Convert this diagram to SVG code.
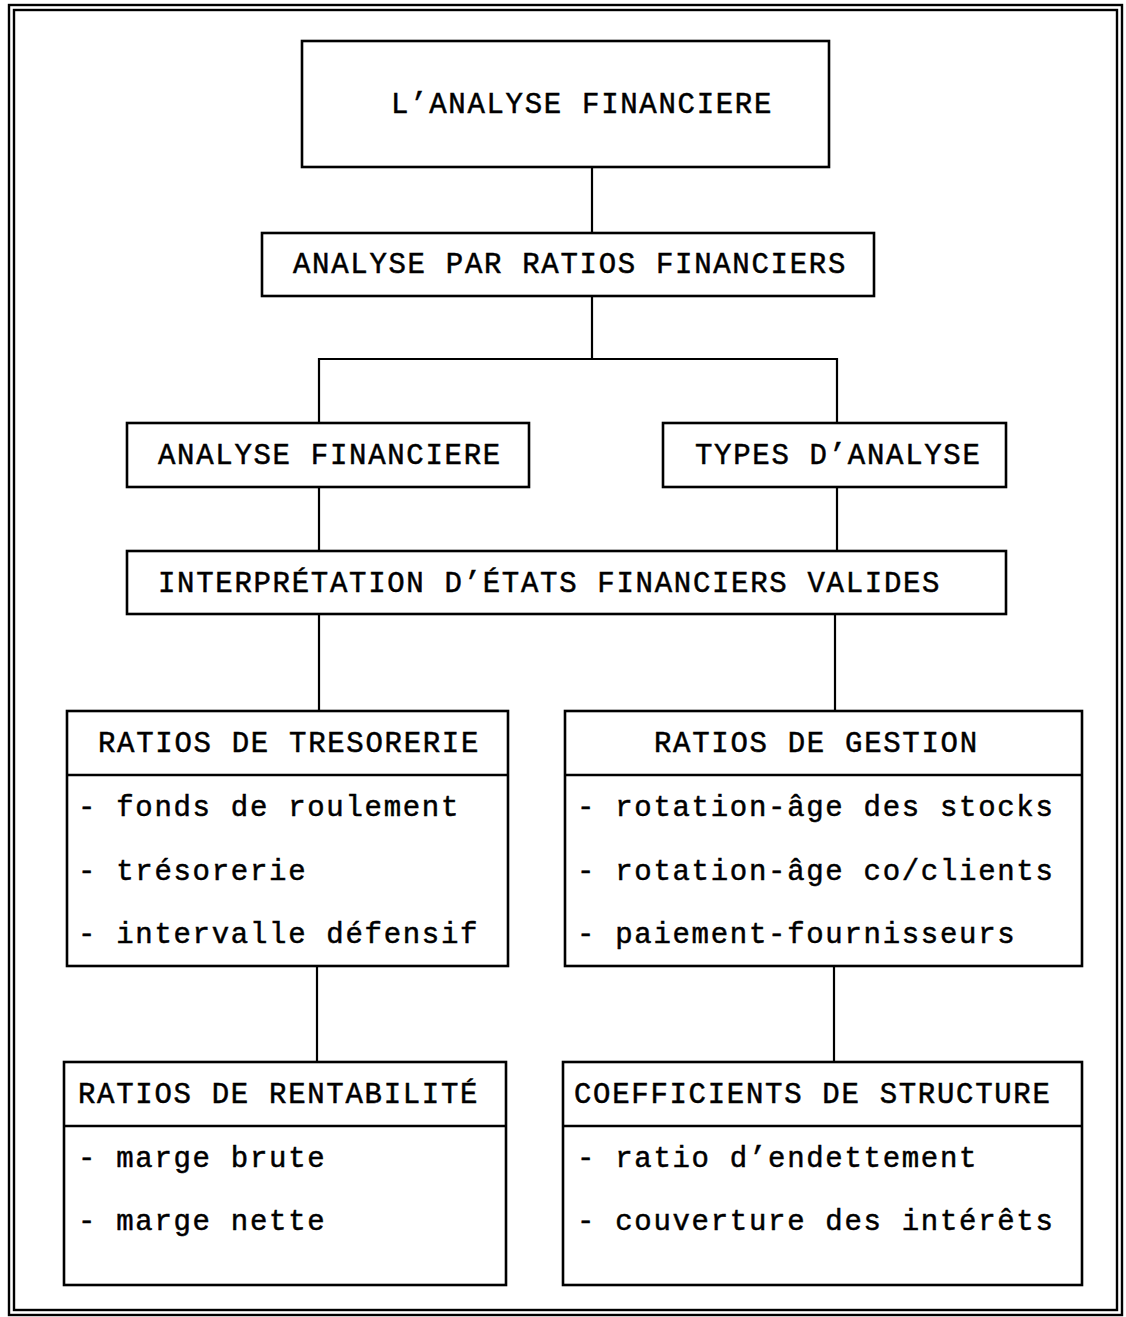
<svg xmlns="http://www.w3.org/2000/svg" width="1126" height="1317" viewBox="0 0 1126 1317">
  <style>
    .box { fill: #fff; stroke: #000; stroke-width: 2.6; }
    .rule { stroke: #000; stroke-width: 2.6; fill: none; }
    .frame { fill: none; stroke: #000; stroke-width: 2.4; }
    .link { stroke: #000; stroke-width: 2.2; fill: none; }
    text { font-family: "Liberation Mono", "Courier New", monospace; font-size: 29px; letter-spacing: 1.7px; fill: #000; stroke: #000; stroke-width: 0.5px; }
  </style>
  <rect width="1126" height="1317" fill="#fff"/>

  <!-- double page frame -->
  <rect class="frame" x="9" y="5" width="1113" height="1310"/>
  <rect class="frame" x="14" y="10" width="1103" height="1300"/>

  <!-- connectors -->
  <g id="connectors">
    <line class="link" x1="592" y1="167" x2="592" y2="233"/>
    <polyline class="link" points="592,296 592,359"/>
    <polyline class="link" points="319,423 319,359 837,359 837,423"/>
    <line class="link" x1="319" y1="487" x2="319" y2="551"/>
    <line class="link" x1="837" y1="487" x2="837" y2="551"/>
    <line class="link" x1="319" y1="614" x2="319" y2="711"/>
    <line class="link" x1="835" y1="614" x2="835" y2="711"/>
    <line class="link" x1="317" y1="966" x2="317" y2="1062"/>
    <line class="link" x1="834" y1="966" x2="834" y2="1062"/>
  </g>

  <g id="analyse-financiere-root">
    <rect class="box" x="302" y="41" width="527" height="126"/>
    <text x="391" y="113">L’ANALYSE FINANCIERE</text>
  </g>

  <g id="analyse-ratios">
    <rect class="box" x="262" y="233" width="612" height="63"/>
    <text x="293" y="273">ANALYSE PAR RATIOS FINANCIERS</text>
  </g>

  <g id="analyse-financiere">
    <rect class="box" x="127" y="423" width="402" height="64"/>
    <text x="158" y="464">ANALYSE FINANCIERE</text>
  </g>

  <g id="types-analyse">
    <rect class="box" x="663" y="423" width="343" height="64"/>
    <text x="695" y="464">TYPES D’ANALYSE</text>
  </g>

  <g id="interpretation">
    <rect class="box" x="127" y="551" width="879" height="63"/>
    <text x="158" y="592">INTERPRÉTATION D’ÉTATS FINANCIERS VALIDES</text>
  </g>

  <g id="ratios-tresorerie">
    <rect class="box" x="67" y="711" width="441" height="255"/>
    <line class="rule" x1="67" y1="775" x2="508" y2="775"/>
    <text x="98" y="752">RATIOS DE TRESORERIE</text>
    <text x="78" y="816">- fonds de roulement</text>
    <text x="78" y="880">- trésorerie</text>
    <text x="78" y="943">- intervalle défensif</text>
  </g>

  <g id="ratios-gestion">
    <rect class="box" x="565" y="711" width="517" height="255"/>
    <line class="rule" x1="565" y1="775" x2="1082" y2="775"/>
    <text x="654" y="752">RATIOS DE GESTION</text>
    <text x="577" y="816">- rotation-âge des stocks</text>
    <text x="577" y="880">- rotation-âge co/clients</text>
    <text x="577" y="943">- paiement-fournisseurs</text>
  </g>

  <g id="ratios-rentabilite">
    <rect class="box" x="64" y="1062" width="442" height="223"/>
    <line class="rule" x1="64" y1="1126" x2="506" y2="1126"/>
    <text x="78" y="1103">RATIOS DE RENTABILITÉ</text>
    <text x="78" y="1167">- marge brute</text>
    <text x="78" y="1230">- marge nette</text>
  </g>

  <g id="coefficients-structure">
    <rect class="box" x="563" y="1062" width="519" height="223"/>
    <line class="rule" x1="563" y1="1126" x2="1082" y2="1126"/>
    <text x="574" y="1103">COEFFICIENTS DE STRUCTURE</text>
    <text x="577" y="1167">- ratio d’endettement</text>
    <text x="577" y="1230">- couverture des intérêts</text>
  </g>
</svg>
